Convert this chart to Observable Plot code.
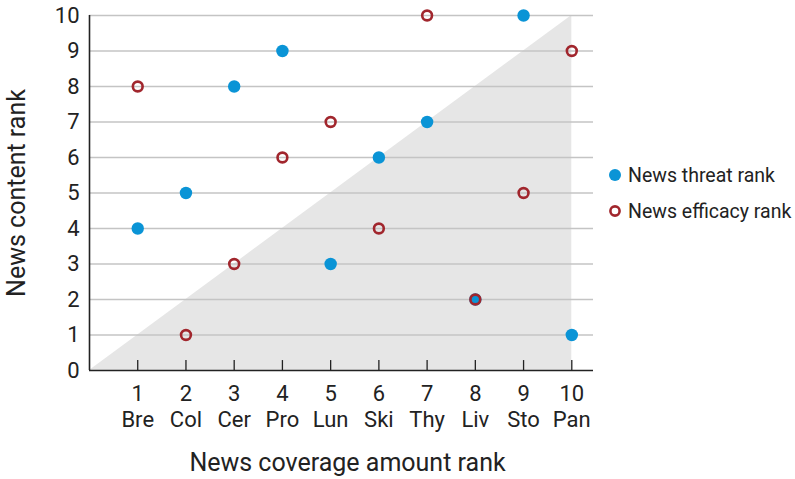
<!DOCTYPE html>
<html>
<head>
<meta charset="utf-8">
<script src="https://cdn.jsdelivr.net/npm/d3@7"></script>
<script src="https://cdn.jsdelivr.net/npm/@observablehq/plot@0.6"></script>
<style>
  body { margin: 0; background: #fff; }
  #wrap { position: relative; width: 795px; height: 479px; font-family: Roboto, "Liberation Sans", sans-serif; }
  #legend { position: absolute; left: 607px; top: 157px; font-size: 19.5px; color: #222; white-space: nowrap; }
  #legend .row { display: flex; align-items: center; height: 36px; }
  #legend svg { margin-right: 5px; flex: none; }
</style>
</head>
<body>
<div id="wrap"><div id="legend"></div></div>
<script>
const ranks = [1, 2, 3, 4, 5, 6, 7, 8, 9, 10];
const names = ["Bre", "Col", "Cer", "Pro", "Lun", "Ski", "Thy", "Liv", "Sto", "Pan"];
const threatRank = [4, 5, 8, 9, 3, 6, 7, 2, 10, 1];
const efficacyRank = [8, 1, 3, 6, 7, 4, 10, 2, 5, 9];
const yTicks = [0, 1, 2, 3, 4, 5, 6, 7, 8, 9, 10];
const seriesNames = ["News threat rank", "News efficacy rank"];
const xTitle = "News coverage amount rank";
const yTitle = "News content rank";
const blue = "#0a94d6";
const red = "#a1262d";

const threat = ranks.map((r, i) => ({x: r, y: threatRank[i]}));
const efficacy = ranks.map((r, i) => ({x: r, y: efficacyRank[i]}));
const diag = [{x: 0, y: 0}, {x: 10, y: 10}];

const font = 'Roboto, "Liberation Sans", sans-serif';

const chart = Plot.plot({
  width: 795,
  height: 479,
  marginLeft: 89,
  marginRight: 202,
  marginTop: 15,
  marginBottom: 109,
  style: {fontFamily: font, fontSize: "22px", color: "#222", background: "transparent", overflow: "visible"},
  x: {domain: [0, 10.45]},
  y: {domain: [0, 10]},
  marks: [
    Plot.areaY(diag, {x: "x", y: "y", fill: "#e6e6e6"}),
    Plot.ruleY(yTicks.filter(d => d > 0), {stroke: "#c4c4c4", strokeWidth: 1.6}),
    Plot.ruleX(ranks, {x: d => d, y1: 0, y2: 0.28, stroke: "#222", strokeWidth: 1.3}),
    Plot.ruleY([0], {stroke: "#222", strokeWidth: 1.6}),
    Plot.ruleX([0], {stroke: "#222", strokeWidth: 1.6}),
    Plot.axisY({ticks: yTicks, tickSize: 0, tickPadding: 10, tickFormat: d => String(d), fontSize: 22, label: null}),
    Plot.axisX({ticks: ranks, tickSize: 0, tickPadding: 13, fontSize: 22, lineHeight: 1.15,
      tickFormat: d => d + "\n" + names[d - 1], label: null}),
    Plot.text([yTitle], {text: d => d, frameAnchor: "left", rotate: -90, dx: -73, fontSize: 25, fill: "#222", lineAnchor: "middle", textAnchor: "middle"}),
    Plot.text([xTitle], {text: d => d, frameAnchor: "bottom", dx: 6, dy: 92, fontSize: 25, fill: "#222", lineAnchor: "middle", textAnchor: "middle"}),
    Plot.dot(threat, {x: "x", y: "y", r: 6.2, fill: blue, stroke: "none"}),
    Plot.dot(efficacy, {x: "x", y: "y", r: 4.9, fill: "none", stroke: red, strokeWidth: 2.6})
  ]
});
chart.style.position = "absolute";
chart.style.left = "0";
chart.style.top = "0";
document.getElementById("wrap").prepend(chart);

const legend = document.getElementById("legend");
seriesNames.forEach((name, i) => {
  const row = document.createElement("div");
  row.className = "row";
  const sw = i === 0
    ? `<svg width="16" height="16"><circle cx="8" cy="8" r="6" fill="${blue}"/></svg>`
    : `<svg width="16" height="16"><circle cx="8" cy="8" r="4.6" fill="none" stroke="${red}" stroke-width="2.6"/></svg>`;
  row.innerHTML = sw + `<span>${name}</span>`;
  legend.appendChild(row);
});
</script>
</body>
</html>
